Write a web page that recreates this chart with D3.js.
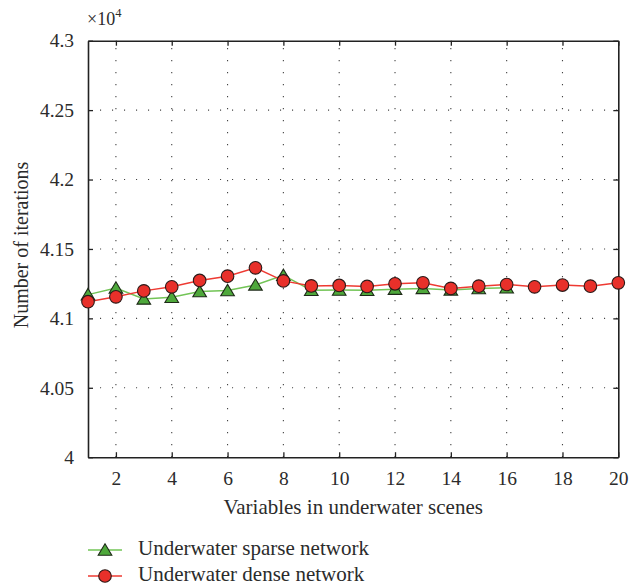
<!DOCTYPE html>
<html>
<head>
<meta charset="utf-8">
<script src="https://cdn.jsdelivr.net/npm/d3@7"></script>
<style>
  html, body { margin: 0; padding: 0; background: #fff; }
  svg { display: block; }
  svg text { font-family: "Liberation Serif", "DejaVu Serif", serif !important; }
</style>
</head>
<body>
<svg id="chart" width="629" height="586"></svg>
<script>
// Iteration counts (in units of 1e4) per scene variable
const variables = d3.range(1, 21);
const sparseValues = [4.1171, 4.1219, 4.1140, 4.1152, 4.1193, 4.1200, 4.1241, 4.1310,
                      4.1202, 4.1204, 4.1202, 4.1210, 4.1216, 4.1205, 4.1215, 4.1220];
const denseValues  = [4.1120, 4.1155, 4.1198, 4.1227, 4.1273, 4.1304, 4.1364, 4.1270,
                      4.1234, 4.1237, 4.1230, 4.1249, 4.1256, 4.1216, 4.1232, 4.1244,
                      4.1227, 4.1240, 4.1232, 4.1256];
const xTicks = [2, 4, 6, 8, 10, 12, 14, 16, 18, 20];
const yTicks = [4, 4.05, 4.1, 4.15, 4.2, 4.25, 4.3];
const yTickLabels = ["4", "4.05", "4.1", "4.15", "4.2", "4.25", "4.3"];
const seriesNames = ["Underwater sparse network", "Underwater dense network"];

const svg = d3.select("#chart");
const plotLeft = 88, plotTop = 40.7, plotRight = 618.3, plotBottom = 457.2;

const x = d3.scaleLinear().domain([1, 20]).range([plotLeft, plotRight]);
const y = d3.scaleLinear().domain([4, 4.3]).range([plotBottom, plotTop]);

const textColor = "#2b2b2b";
const redFill = "#e8302a", redLine = "#ee3a32";
const greenFill = "#4ea83b", greenLine = "#72c456";

// dotted grid
const grid = svg.append("g");
grid.selectAll("line.vg").data(xTicks.filter(d => d < 20)).join("line")
  .attr("x1", d => x(d)).attr("x2", d => x(d))
  .attr("y1", plotBottom).attr("y2", plotTop)
  .attr("stroke", "#444").attr("stroke-width", 1.1)
  .attr("stroke-dasharray", "1.1,10.9");
grid.selectAll("line.hg").data(yTicks.filter(d => d > 4 && d < 4.3)).join("line")
  .attr("x1", plotLeft).attr("x2", plotRight)
  .attr("y1", d => y(d)).attr("y2", d => y(d))
  .attr("stroke", "#444").attr("stroke-width", 1.1)
  .attr("stroke-dasharray", "1.1,10.9");

// axes (ticks drawn inward on all four sides)
const axisStyle = g => {
  g.attr("font-family", null);
  g.select(".domain").attr("stroke", "#222").attr("stroke-width", 1.6);
  g.selectAll(".tick line").attr("stroke", "#222").attr("stroke-width", 1.3);
  g.selectAll(".tick text").attr("fill", textColor).attr("font-size", 19.5);
};
svg.append("g").attr("transform", `translate(0,${plotBottom})`)
  .call(d3.axisBottom(x).tickValues(xTicks).tickSizeInner(-5).tickSizeOuter(0).tickPadding(14))
  .call(axisStyle);
svg.append("g").attr("transform", `translate(0,${plotTop})`)
  .call(d3.axisTop(x).tickValues(xTicks).tickSizeInner(-5).tickSizeOuter(0).tickFormat(""))
  .call(axisStyle);
svg.append("g").attr("transform", `translate(${plotLeft},0)`)
  .call(d3.axisLeft(y).tickValues(yTicks).tickSizeInner(-5).tickSizeOuter(0).tickPadding(14)
    .tickFormat((d, i) => yTickLabels[i]))
  .call(axisStyle);
svg.append("g").attr("transform", `translate(${plotRight},0)`)
  .call(d3.axisRight(y).tickValues(yTicks).tickSizeInner(-5).tickSizeOuter(0).tickFormat(""))
  .call(axisStyle);

// exponent label
const expo = svg.append("text").attr("x", plotLeft - 1).attr("y", 25)
  .attr("fill", textColor).attr("font-size", 18);
expo.append("tspan").text("×10");
expo.append("tspan").attr("font-size", 12.5).attr("dy", -8).text("4");

// axis titles
svg.append("text").attr("x", (plotLeft + plotRight) / 2).attr("y", 514)
  .attr("text-anchor", "middle").attr("fill", textColor).attr("font-size", 21)
  .text("Variables in underwater scenes");
svg.append("text").attr("transform", `translate(28,${(plotTop + plotBottom) / 2 - 4}) rotate(-90)`)
  .attr("text-anchor", "middle").attr("fill", textColor).attr("font-size", 20)
  .text("Number of iterations");

// series
const sparse = sparseValues.map((v, i) => [variables[i], v]);
const dense = denseValues.map((v, i) => [variables[i], v]);
const line = d3.line().x(d => x(d[0])).y(d => y(d[1]));

const triPath = "M0,-6.2L6.8,5.2L-6.8,5.2Z";

svg.append("path").datum(sparse).attr("d", line)
  .attr("fill", "none").attr("stroke", greenLine).attr("stroke-width", 1.5);
svg.append("path").datum(dense).attr("d", line)
  .attr("fill", "none").attr("stroke", redLine).attr("stroke-width", 1.5);

svg.append("g").selectAll("path").data(sparse).join("path")
  .attr("transform", d => `translate(${x(d[0])},${y(d[1])})`)
  .attr("d", triPath)
  .attr("fill", greenFill).attr("stroke", "#1e2a18").attr("stroke-width", 1.1);
svg.append("g").selectAll("circle").data(dense).join("circle")
  .attr("cx", d => x(d[0])).attr("cy", d => y(d[1])).attr("r", 6.3)
  .attr("fill", redFill).attr("stroke", "#2a1a18").attr("stroke-width", 1.1);

// legend
const legend = svg.append("g");
const rows = [
  { name: seriesNames[0], color: greenLine, fill: greenFill, shape: "tri", y: 550 },
  { name: seriesNames[1], color: redLine, fill: redFill, shape: "circle", y: 576 }
];
rows.forEach(r => {
  legend.append("line").attr("x1", 88).attr("x2", 122).attr("y1", r.y).attr("y2", r.y)
    .attr("stroke", r.color).attr("stroke-width", 1.5);
  if (r.shape === "tri") {
    legend.append("path").attr("transform", `translate(105,${r.y})`).attr("d", triPath)
      .attr("fill", r.fill).attr("stroke", "#1e2a18").attr("stroke-width", 1.1);
  } else {
    legend.append("circle").attr("cx", 105).attr("cy", r.y).attr("r", 6.3)
      .attr("fill", r.fill).attr("stroke", "#2a1a18").attr("stroke-width", 1.1);
  }
  legend.append("text").attr("x", 138).attr("y", r.y + 5).attr("fill", textColor)
    .attr("font-size", 21).text(r.name);
});
</script>
</body>
</html>
